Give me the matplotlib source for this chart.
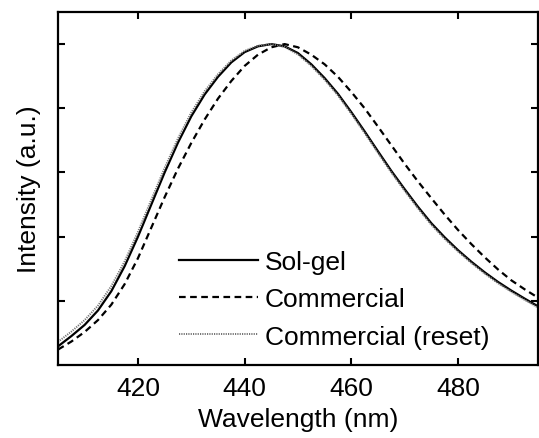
import numpy as np
import matplotlib
matplotlib.use("Agg")
import matplotlib.pyplot as plt

plt.rcParams['font.family'] = ['Liberation Sans', 'DejaVu Sans']

# emission spectra, normalised to the peak
wavelength = [405, 407.5, 410, 412.5, 415, 417.5, 420, 422.5, 425, 427.5,
              430, 432.5, 435, 437.5, 440, 442.5, 445, 447.5, 450, 452.5,
              455, 457.5, 460, 462.5, 465, 467.5, 470, 472.5, 475, 477.5,
              480, 482.5, 485, 487.5, 490, 492.5, 495]

sol_gel = [0.058, 0.090, 0.125, 0.170, 0.230, 0.308, 0.400, 0.500, 0.600, 0.693,
           0.775, 0.843, 0.898, 0.943, 0.975, 0.993, 1.000, 0.993, 0.972, 0.937,
           0.894, 0.845, 0.788, 0.728, 0.666, 0.605, 0.548, 0.493, 0.442, 0.398,
           0.358, 0.322, 0.289, 0.259, 0.232, 0.207, 0.183]

commercial = [0.048, 0.073, 0.103, 0.140, 0.188, 0.252, 0.333, 0.428, 0.523, 0.612,
              0.692, 0.765, 0.830, 0.885, 0.932, 0.967, 0.990, 1.000, 0.990, 0.967,
              0.937, 0.898, 0.851, 0.800, 0.743, 0.685, 0.627, 0.572, 0.520, 0.469,
              0.421, 0.377, 0.336, 0.298, 0.264, 0.236, 0.210]

commercial_reset = [0.072, 0.104, 0.140, 0.185, 0.246, 0.323, 0.415, 0.515, 0.614, 0.706,
                    0.787, 0.853, 0.906, 0.949, 0.979, 0.995, 1.000, 0.991, 0.968, 0.932,
                    0.889, 0.840, 0.783, 0.723, 0.661, 0.600, 0.543, 0.488, 0.437, 0.393,
                    0.354, 0.318, 0.285, 0.255, 0.228, 0.203, 0.179]

fig = plt.figure(figsize=(5.39, 4.39), dpi=100)
ax = fig.add_axes([0.1076, 0.1663, 0.8904, 0.8041])

ax.plot(wavelength, sol_gel, color='black', lw=1.6, ls='-', label='Sol-gel')
ax.plot(wavelength, commercial, color='black', lw=1.6, ls=(0, (3, 2)), label='Commercial')
ax.plot(wavelength, commercial_reset, color='0.45', lw=1.4, ls=(0, (0.6, 0.6)),
        label='Commercial (reset)')

ax.set_xlim(405, 495)
ax.set_ylim(0, 1.1)
ax.set_xticks([420, 440, 460, 480])
ax.set_yticks([0.2, 0.4, 0.6, 0.8, 1.0])
ax.set_yticklabels([])
ax.tick_params(direction='in', length=5, width=1.5, top=True, right=True,
               labelsize=19, pad=8)
for s in ax.spines.values():
    s.set_linewidth(1.6)

ax.set_xlabel('Wavelength (nm)', fontsize=19, labelpad=5)
ax.set_ylabel('Intensity (a.u.)', fontsize=19, labelpad=4)

ax.legend(loc='upper left', bbox_to_anchor=(0.2525, 0.325), frameon=False,
          fontsize=19, handlelength=3.0, handletextpad=0.25, labelspacing=0.5,
          borderaxespad=0, borderpad=0)

fig.savefig('out.png', dpi=100, facecolor='white')
